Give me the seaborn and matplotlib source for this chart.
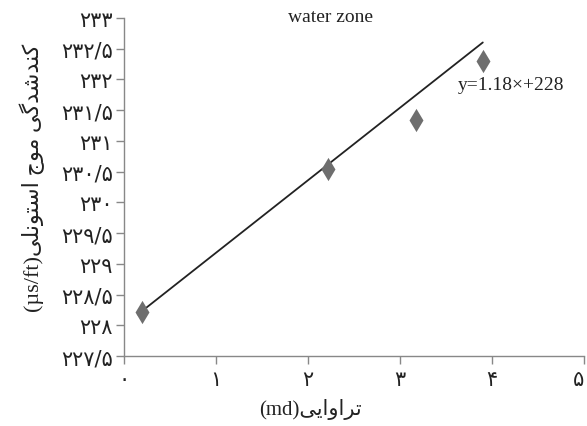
import matplotlib
matplotlib.use("Agg")
import matplotlib.pyplot as plt
import seaborn as sns
import numpy as np
import pandas as pd

# ---------------- data ----------------
perm = [0.2, 2.22, 3.17, 3.9]                 # تراوایی (md)
atten = [228.22, 230.54, 231.34, 232.30]      # کندشدگی موج استونلی (µs/ft)
fit_slope = 1.18
fit_intercept = 228.0
fit_x = [0.15, 3.9]
x_ticks = [0, 1, 2, 3, 4, 5]
x_tick_labels = ["۰", "۱", "۲", "۳", "۴", "۵"]
y_ticks = [227.5, 228, 228.5, 229, 229.5, 230, 230.5, 231, 231.5, 232, 232.5, 233]
y_tick_labels = ["۲۲۷/۵", "۲۲۸", "۲۲۸/۵", "۲۲۹", "۲۲۹/۵", "۲۳۰",
                 "۲۳۰/۵", "۲۳۱", "۲۳۱/۵", "۲۳۲", "۲۳۲/۵", "۲۳۳"]
title_text = "water zone"
eq_text = "y=1.18×+228"
xlabel_fa = "تراوایی"
xlabel_unit = "(md)"
ylabel_fa = "کندشدگی موج استونلی"
ylabel_unit = "(µs/ft)"

# --------- minimal Arabic-script shaping (visual order) ---------
FORMS = {  # iso, fin, ini, med
    "ا": ("\uFE8D", "\uFE8E", None, None),
    "ت": ("\uFE95", "\uFE96", "\uFE97", "\uFE98"),
    "ج": ("\uFE9D", "\uFE9E", "\uFE9F", "\uFEA0"),
    "د": ("\uFEA9", "\uFEAA", None, None),
    "ر": ("\uFEAD", "\uFEAE", None, None),
    "س": ("\uFEB1", "\uFEB2", "\uFEB3", "\uFEB4"),
    "ش": ("\uFEB5", "\uFEB6", "\uFEB7", "\uFEB8"),
    "ل": ("\uFEDD", "\uFEDE", "\uFEDF", "\uFEE0"),
    "م": ("\uFEE1", "\uFEE2", "\uFEE3", "\uFEE4"),
    "ن": ("\uFEE5", "\uFEE6", "\uFEE7", "\uFEE8"),
    "و": ("\uFEED", "\uFEEE", None, None),
    "ک": ("\uFB8E", "\uFB8F", "\uFB90", "\uFB91"),
    "گ": ("\uFB92", "\uFB93", "\uFB94", "\uFB95"),
    "ی": ("\uFBFC", "\uFBFD", "\uFBFE", "\uFBFF"),
}


def shape(text):
    out = []
    n = len(text)
    for i, c in enumerate(text):
        if c not in FORMS:
            out.append(c)
            continue
        prev = text[i - 1] if i > 0 else None
        nxt = text[i + 1] if i + 1 < n else None
        jp = prev in FORMS and FORMS[prev][2] is not None
        jn = nxt in FORMS and FORMS[c][2] is not None
        iso, fin, ini, med = FORMS[c]
        if jp and jn:
            out.append(med)
        elif jp:
            out.append(fin)
        elif jn:
            out.append(ini)
        else:
            out.append(iso)
    return "".join(reversed(out))


# ---------------- plot ----------------
sns.set_theme(style="white")
plt.rcParams["font.family"] = ["Liberation Serif", "DejaVu Sans"]

fig = plt.figure(figsize=(5.87, 4.27), dpi=100)
ax = fig.add_axes([124 / 587, 1 - 357 / 427, 460 / 587, 338 / 427])

df_pts = pd.DataFrame({"perm": perm, "atten": atten})
fx = np.array(fit_x)
df_fit = pd.DataFrame({"x": fx, "y": fit_slope * fx + fit_intercept})

sns.lineplot(data=df_fit, x="x", y="y", ax=ax, color="#222222", lw=1.3)
sns.scatterplot(data=df_pts, x="perm", y="atten", ax=ax, marker="d", s=140,
                color="#6e6e6e", edgecolor="#6e6e6e", linewidth=0, zorder=3)

ax.set_xlim(0, 5)
ax.set_ylim(227.5, 233)
ax.set_xticks(x_ticks)
ax.set_xticklabels(x_tick_labels, fontsize=15, family=["DejaVu Sans"])
ax.get_xticklabels()[-1].set_horizontalalignment("right")
ax.set_yticks(y_ticks)
ax.set_yticklabels(y_tick_labels, fontsize=15, family=["DejaVu Sans"])
ax.set_xlabel("")
ax.set_ylabel("")
for s in ["top", "right"]:
    ax.spines[s].set_visible(False)
for s in ["left", "bottom"]:
    ax.spines[s].set_color("#888888")
    ax.spines[s].set_linewidth(1.0)
ax.tick_params(axis="both", which="major", direction="out", length=6,
               width=1.0, color="#888888", labelcolor="#222222")
ax.tick_params(axis="y", pad=2)
ax.tick_params(left=True, bottom=True)
ax.grid(False)

fig.text(330 / 587, 1 - 18 / 427, title_text, ha="center", va="center",
         fontsize=14, color="#222222")
fig.text(511 / 587, 1 - 86 / 427, eq_text, ha="center", va="center",
         fontsize=14, color="#222222")
fig.text(310 / 587, 1 - 410 / 427, xlabel_unit + shape(xlabel_fa), ha="center",
         va="center", fontsize=15, color="#222222")
fig.text(32 / 587, 1 - 178 / 427, ylabel_unit + shape(ylabel_fa), ha="center",
         va="center", rotation=90, fontsize=16, color="#222222")

fig.savefig("out.png", dpi=100)
